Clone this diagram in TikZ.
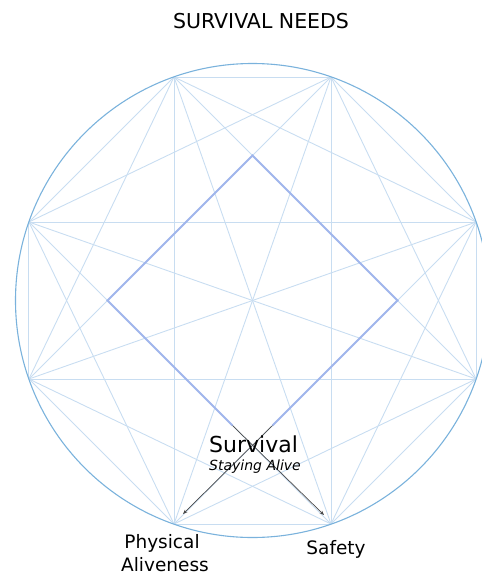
\documentclass[tikz,border=0pt]{standalone}
\usepackage{fontspec}
\setmainfont{DejaVu Sans}
\usetikzlibrary{arrows.meta}
\definecolor{circblue}{HTML}{7AB2DC}
\definecolor{chordblue}{HTML}{C8DDF1}
\definecolor{diamblue}{HTML}{A0B6EC}
\definecolor{arrowgray}{HTML}{484848}
\tikzset{
  chord/.style={draw=chordblue, line width=0.9pt},
  rim/.style={draw=circblue, line width=1.1pt},
  diam/.style={draw=diamblue, line width=1.8pt, line join=miter},
  needarrow/.style={draw=arrowgray, line width=0.7pt, -{Stealth[length=4.5pt,width=3.5pt]}},
  lbl/.style={inner sep=0pt, anchor=base, text=black}
}
\begin{document}
\begin{tikzpicture}[x=1pt,y=-1pt]
\useasboundingbox (0,0) rectangle (482,576);
\begin{scope}
\clip (0,0) rectangle (482,576);
\coordinate (c) at (252.5,300.5);
\coordinate (p1) at (174,77);
\coordinate (p2) at (331,77);
\coordinate (p3) at (476.1,222);
\coordinate (p4) at (476.1,379);
\coordinate (p5) at (331,524);
\coordinate (p6) at (174,524);
\coordinate (p7) at (28.9,379);
\coordinate (p8) at (28.9,222);
% all chords between the eight points
\foreach \i in {1,...,7}{
  \pgfmathtruncatemacro{\jstart}{\i+1}
  \foreach \j in {\jstart,...,8}{
    \draw[chord] (p\i) -- (p\j);
  }
}
\draw[rim] (c) circle[radius=237];
% inner diamond
\coordinate (dt) at (252.5,155.5);
\coordinate (dl) at (107.5,300.5);
\coordinate (dr) at (397.5,300.5);
\coordinate (dle) at (232.5,425.5);
\coordinate (dre) at (272.5,425.5);
\draw[diam] (dle) -- (dl) -- (dt) -- (dr) -- (dre);
% arrows
\coordinate (tipL) at (183,514);
\coordinate (tipR) at (324,515);
\draw[needarrow] (dre) -- (tipL);
\draw[needarrow] (dle) -- (tipR);
\end{scope}
% texts
\node[lbl, font=\fontsize{20.5}{24}\selectfont] (title) at (261,28) {SURVIVAL NEEDS};
\node[lbl, font=\fontsize{22}{26}\selectfont] (surv) at (253.5,452) {Survival};
\node[lbl, font=\fontsize{14}{17}\selectfont\itshape] (stay) at (255,470) {Staying Alive};
\node[lbl, font=\fontsize{18.5}{23}\selectfont] (phys) at (162,548) {Physical};
\node[lbl, font=\fontsize{18.5}{23}\selectfont] (alive) at (165,571) {Aliveness};
\node[lbl, font=\fontsize{18.5}{23}\selectfont] (safe) at (336,554) {Safety};
\end{tikzpicture}
\end{document}
